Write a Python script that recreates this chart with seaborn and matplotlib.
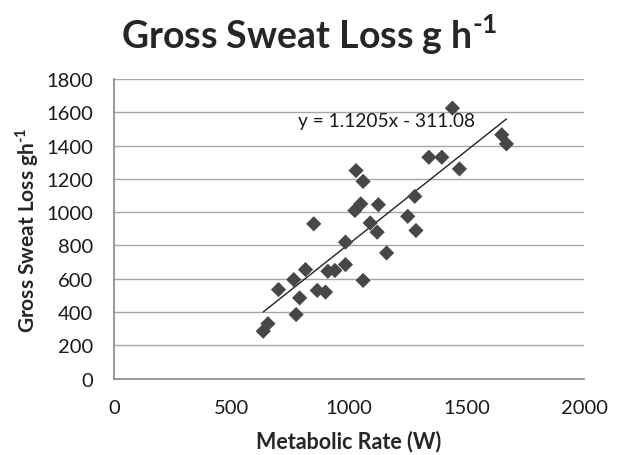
import numpy as np
import pandas as pd
import seaborn as sns
import matplotlib.pyplot as plt

# Values
metabolic_rate = [635, 655, 700, 765, 775, 790, 815, 850, 865, 900, 910, 940,
                  985, 985, 1025, 1030, 1050, 1060, 1060, 1090, 1120, 1125,
                  1160, 1250, 1280, 1285, 1340, 1395, 1440, 1470, 1650, 1670]
sweat_loss = [285, 330, 535, 595, 385, 485, 655, 930, 530, 520, 645, 650,
              685, 820, 1010, 1250, 1050, 1185, 590, 935, 880, 1045,
              755, 975, 1095, 890, 1330, 1330, 1625, 1260, 1465, 1410]
slope = 1.1205
intercept = -311.08
x_ticks = [0, 500, 1000, 1500, 2000]
y_ticks = [0, 200, 400, 600, 800, 1000, 1200, 1400, 1600, 1800]

df = pd.DataFrame({"x": metabolic_rate, "y": sweat_loss})

sns.set_theme(style="white")
plt.rcParams["font.family"] = ["Lato", "DejaVu Sans"]

fig = plt.figure(figsize=(6.25, 4.56), dpi=100)
ax = fig.add_axes([0.1824, 0.1675, 0.752, 0.657])

# trend line across the range of the data
fit_x = np.array([min(metabolic_rate), max(metabolic_rate)])
fit = pd.DataFrame({"x": fit_x, "y": slope * fit_x + intercept})
sns.lineplot(data=fit, x="x", y="y", ax=ax, color="#222222", linewidth=1.0, zorder=3)

sns.scatterplot(data=df, x="x", y="y", ax=ax, marker="D", s=60,
                color="#474747", edgecolor="none", zorder=4)

ax.set_xlim(0, 2000)
ax.set_ylim(0, 1800)
ax.set_xticks(x_ticks)
ax.set_yticks(y_ticks)
ax.yaxis.grid(True, color="#a6a6a6", linewidth=1.0)
ax.set_axisbelow(True)
for side in ["top", "right"]:
    ax.spines[side].set_visible(False)
for side in ["left", "bottom"]:
    ax.spines[side].set_color("#8c8c8c")
ax.tick_params(axis="both", which="major", length=5, width=1, color="#8c8c8c",
               labelsize=14.5, labelcolor="#1a1a1a", pad=10)

sup = "$^{\\mathregular{\u20101}}$"
ax.set_xlabel("Metabolic Rate (W)", fontsize=15.5, fontweight="bold")
ax.set_ylabel("Gross Sweat Loss gh" + sup, fontsize=15, fontweight="bold")
ax.xaxis.set_label_coords(0.5, -0.17)
ax.yaxis.set_label_coords(-0.155, 0.5)

ax.text(783, 1553, "y = 1.1205x - 311.08", fontsize=13.8, color="#1a1a1a",
        va="center", ha="left")

fig.text(0.495, 0.923, "Gross Sweat Loss g h" + sup, ha="center",
         va="center", fontsize=27, fontweight="bold")

fig.savefig("out.png", dpi=100)
